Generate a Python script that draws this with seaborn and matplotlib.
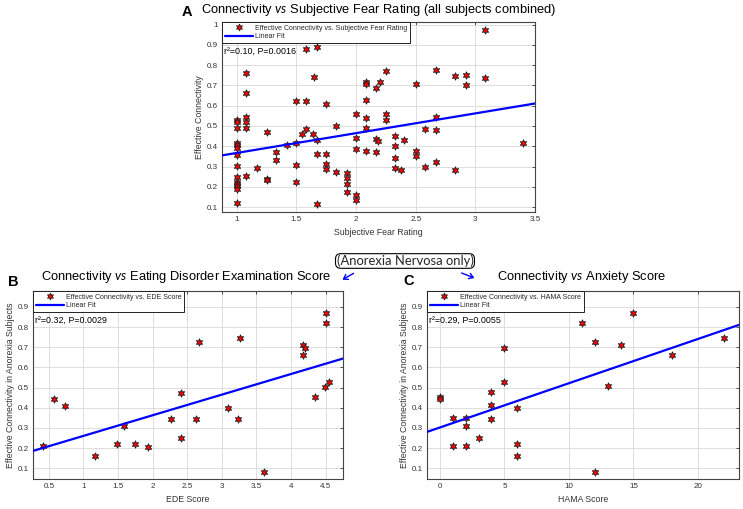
import numpy as np
import matplotlib
matplotlib.use("Agg")
import matplotlib.pyplot as plt
from matplotlib.lines import Line2D
from matplotlib.patches import FancyArrowPatch
import seaborn as sns

# === Panel A data: all subjects ===
fear_rating = [1, 1, 1, 1, 1, 1, 1, 1, 1, 1, 1, 1, 1, 1,
               1.08, 1.08, 1.08, 1.08, 1.08, 1.08,
               1.17, 1.25, 1.25, 1.25, 1.33, 1.33, 1.42,
               1.5, 1.5, 1.5, 1.5, 1.55, 1.58, 1.58, 1.58, 1.64, 1.65,
               1.67, 1.67, 1.67, 1.67, 1.75, 1.75, 1.75, 1.75,
               1.83, 1.83, 1.92, 1.92, 1.92, 1.92,
               2.0, 2.0, 2.0, 2.0, 2.0,
               2.08, 2.08, 2.08, 2.08, 2.08, 2.08,
               2.17, 2.2, 2.17, 2.18, 2.17,
               2.25, 2.25, 2.25, 2.33, 2.33, 2.33, 2.33, 2.38, 2.4,
               2.5, 2.5, 2.5, 2.58, 2.58, 2.67, 2.67, 2.67, 2.67,
               2.83, 2.83, 2.92, 2.92, 3.08, 3.08, 3.4]
conn_all = [0.53, 0.52, 0.49, 0.414, 0.405, 0.39, 0.356, 0.305, 0.25, 0.223, 0.213, 0.203, 0.19, 0.123,
            0.759, 0.663, 0.545, 0.52, 0.49, 0.254,
            0.295, 0.471, 0.241, 0.233, 0.373, 0.333, 0.407,
            0.621, 0.415, 0.31, 0.226, 0.463, 0.88, 0.625, 0.486, 0.46, 0.742,
            0.888, 0.43, 0.36, 0.118, 0.607, 0.363, 0.312, 0.29,
            0.502, 0.272, 0.269, 0.243, 0.215, 0.174,
            0.561, 0.442, 0.389, 0.159, 0.135,
            0.718, 0.708, 0.629, 0.537, 0.49, 0.376,
            0.685, 0.719, 0.437, 0.427, 0.373,
            0.772, 0.561, 0.53, 0.453, 0.399, 0.34, 0.294, 0.284, 0.433,
            0.708, 0.377, 0.35, 0.486, 0.30, 0.778, 0.542, 0.479, 0.322,
            0.745, 0.284, 0.752, 0.70, 0.975, 0.735, 0.415]

# === Panel B data: anorexia, EDE ===
ede_score = [0.42, 0.575, 0.74, 1.17, 1.48, 1.59, 1.75, 1.94, 2.26, 2.41, 2.41, 2.62,
             2.67, 3.09, 3.24, 3.27, 3.61, 4.17, 4.21, 4.18, 4.35, 4.49, 4.51, 4.51, 4.55]
conn_ede = [0.212, 0.443, 0.41, 0.161, 0.22, 0.309, 0.22, 0.207, 0.345, 0.474, 0.248, 0.345,
            0.728, 0.397, 0.342, 0.745, 0.082, 0.71, 0.694, 0.659, 0.455, 0.504, 0.872, 0.822, 0.527]

# === Panel C data: anorexia, HAMA ===
hama_score = [0, 0, 1, 1, 2, 2, 2, 3, 4, 4, 4, 5, 5, 6, 6, 6, 11, 12, 12, 13, 14, 15, 18, 22]
conn_hama = [0.455, 0.443, 0.347, 0.212, 0.347, 0.309, 0.209, 0.25, 0.476, 0.412, 0.344, 0.695,
             0.529, 0.397, 0.222, 0.162, 0.821, 0.728, 0.083, 0.506, 0.71, 0.872, 0.661, 0.745]

sns.set_theme(style="whitegrid")
plt.rcParams["font.family"] = ["Liberation Sans", "DejaVu Sans"]
plt.rcParams["mathtext.fontset"] = "custom"
plt.rcParams["mathtext.rm"] = "Lato"
plt.rcParams["mathtext.it"] = "Lato:italic"

fig = plt.figure(figsize=(7.43, 5.09), dpi=100)
fig.patch.set_facecolor("white")

star = (6, 1, 0)


def draw_panel(ax, x, y, xlim, ylim, xticks, yticks, xlabel, ylabel, legend_text, stat_text):
    sns.scatterplot(x=x, y=y, ax=ax, marker=star, s=28, color="red",
                    edgecolor="#222222", linewidth=0.6, zorder=3, legend=False)
    slope, icpt = np.polyfit(x, y, 1)
    xs = np.array(xlim)
    ax.plot(xs, slope * xs + icpt, color="blue", lw=1.6, zorder=4)
    ax.set_xlim(xlim)
    ax.set_ylim(ylim)
    ax.set_xticks(xticks)
    ax.set_yticks(yticks)
    ax.set_xticklabels([f"{t:g}" for t in xticks])
    ax.set_yticklabels([f"{t:g}" for t in yticks])
    ax.tick_params(labelsize=5.8, colors="#333333", direction="in", length=2.5, width=0.6,
                   top=True, right=True, pad=3)
    ax.grid(True, color="#d8d8d8", lw=0.6)
    for sp in ax.spines.values():
        sp.set_color("#444444")
        sp.set_linewidth(0.8)
    ax.set_facecolor("white")
    ax.set_xlabel(xlabel, fontsize=6.3, color="#333333", labelpad=3)
    ax.set_ylabel(ylabel, fontsize=6.3, color="#333333", labelpad=2)
    handles = [Line2D([], [], ls="none", marker=star, ms=5, mfc="red", mec="#222222", mew=0.6),
               Line2D([], [], color="blue", lw=1.6)]
    leg = ax.legend(handles, [legend_text, "Linear Fit"], loc="upper left",
                    bbox_to_anchor=(0, 1), borderaxespad=0, fontsize=5.0, frameon=True,
                    fancybox=False, handlelength=4, handletextpad=0.3, borderpad=0.4,
                    labelspacing=0.25)
    leg.get_frame().set_edgecolor("#222222")
    leg.get_frame().set_linewidth(0.7)
    leg.get_frame().set_alpha(1)
    ax.text(0.006, 0.845, stat_text, transform=ax.transAxes, fontsize=6.4, color="black",
            va="center", ha="left", zorder=5)


ax_a = fig.add_axes([0.299, 0.583, 0.421, 0.374])
draw_panel(ax_a, fear_rating, conn_all, (0.877, 3.5), (0.075, 1.013),
           [1, 1.5, 2, 2.5, 3, 3.5], [0.1, 0.2, 0.3, 0.4, 0.5, 0.6, 0.7, 0.8, 0.9, 1],
           "Subjective Fear Rating", "Effective Connectivity",
           "Effective Connectivity vs. Subjective Fear Rating", "r²=0.10, P=0.0016")

ax_b = fig.add_axes([0.0444, 0.0583, 0.417, 0.3705])
draw_panel(ax_b, ede_score, conn_ede, (0.27, 4.75), (0.045, 0.98),
           [0.5, 1, 1.5, 2, 2.5, 3, 3.5, 4, 4.5], [0.1, 0.2, 0.3, 0.4, 0.5, 0.6, 0.7, 0.8, 0.9],
           "EDE Score", "Effective Connectivity in Anorexia Subjects",
           "Effective Connectivity vs. EDE Score", "r²=0.32, P=0.0029")

ax_c = fig.add_axes([0.575, 0.0583, 0.42, 0.3705])
draw_panel(ax_c, hama_score, conn_hama, (-0.98, 23.2), (0.045, 0.98),
           [0, 5, 10, 15, 20], [0.1, 0.2, 0.3, 0.4, 0.5, 0.6, 0.7, 0.8, 0.9],
           "HAMA Score", "Effective Connectivity in Anorexia Subjects",
           "Effective Connectivity vs. HAMA Score", "r²=0.29, P=0.0055")

# titles and panel letters
W, H = 743, 509
def fx(px):
    return px / W
def fy(py):
    return 1 - py / H

title_kw = dict(fontsize=9.3, ha="center", va="center", color="black")
fig.text(fx(379), fy(10), r"Connectivity $\mathit{vs}$ Subjective Fear Rating (all subjects combined)",
         **title_kw)
fig.text(fx(186), fy(277), r"Connectivity $\mathit{vs}$ Eating Disorder Examination Score", **title_kw)
fig.text(fx(582), fy(277), r"Connectivity $\mathit{vs}$ Anxiety Score", **title_kw)

letter_kw = dict(fontsize=10.5, fontweight="bold", ha="center", va="center", color="black")
fig.text(fx(187), fy(12), "A", **letter_kw)
fig.text(fx(13), fy(282), "B", **letter_kw)
fig.text(fx(409), fy(281), "C", **letter_kw)

fig.text(fx(405), fy(261), "(Anorexia Nervosa only)", fontsize=9.4, ha="center", va="center",
         family="Lato",
         bbox=dict(boxstyle="round,pad=0.08,rounding_size=0.4", fc="white", ec="black", lw=0.8))

for (x0, y0), (x1, y1) in [((356, 272), (340, 281)), ((459, 272), (477, 279))]:
    fig.add_artist(FancyArrowPatch((fx(x0), fy(y0)), (fx(x1), fy(y1)), transform=fig.transFigure,
                                   arrowstyle="->,head_length=3,head_width=2", color="blue", lw=1.0))

fig.savefig("out.png", dpi=100)
